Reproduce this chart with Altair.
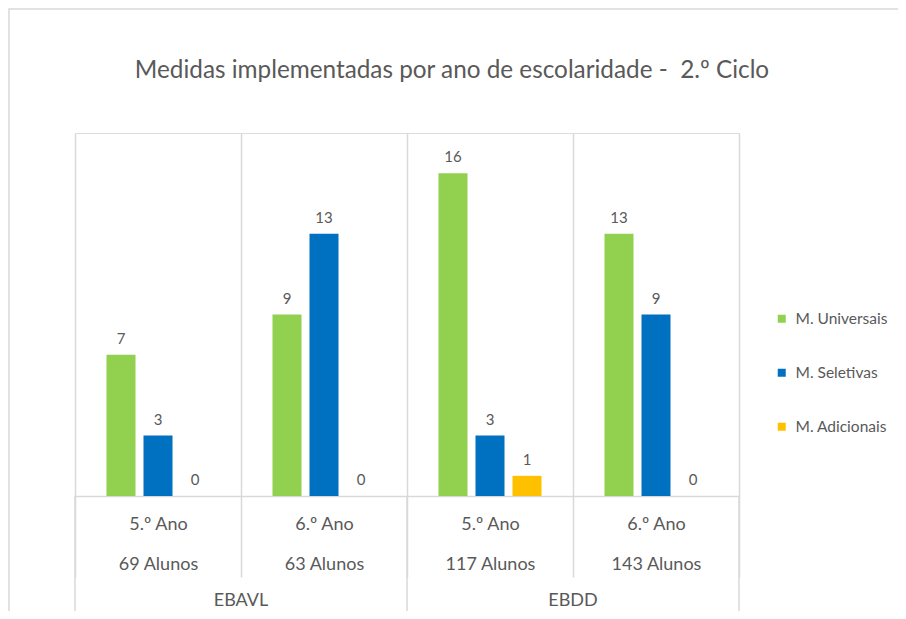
import altair as alt
import pandas as pd

schools = ["EBAVL", "EBAVL", "EBDD", "EBDD"]
anos = ["5.º Ano", "6.º Ano", "5.º Ano", "6.º Ano"]
alunos = ["69 Alunos", "63 Alunos", "117 Alunos", "143 Alunos"]
series = ["M. Universais", "M. Seletivas", "M. Adicionais"]
universais = [7, 9, 16, 13]
seletivas = [3, 13, 3, 9]
adicionais = [0, 0, 1, 0]
colors = ["#92D050", "#0070C0", "#FFC000"]
title_text = "Medidas implementadas por ano de escolaridade -\u00a0 2.º Ciclo"

groups = [f"{a}|{n}" for a, n in zip(anos, alunos)]
rows = []
for i, g in enumerate(groups):
    for s, vals in zip(series, [universais, seletivas, adicionais]):
        rows.append({"grupo": g, "serie": s, "valor": vals[i], "escola": schools[i]})
df = pd.DataFrame(rows)

school_first = pd.DataFrame(
    [{"grupo": groups[i], "escola": schools[i]} for i in range(len(groups))
     if i == 0 or schools[i] != schools[i - 1]]
)
last_group = pd.DataFrame([{"grupo": groups[-1], "titulo": title_text}])

W, H = 664, 363
FONT = "Lato"
TXT = "#595959"
GRID = "#D9D9D9"

xscale = alt.Scale(domain=groups, paddingInner=0, paddingOuter=0)
x = alt.X(
    "grupo:N", scale=xscale, sort=groups,
    axis=alt.Axis(
        title=None, labelAngle=0,
        labelExpr="split(datum.label, '|')",
        labelLineHeight=40, labelFontSize=18, labelFont=FONT, labelColor=TXT,
        labelBaseline="middle", labelPadding=-53,
        tickBand="extent", tickSize=81, tickColor=GRID, tickWidth=1.5,
        domainColor=GRID, domainWidth=1.5,
        grid=True, gridColor=GRID, gridWidth=1.5,
    ),
)
xoff = alt.XOffset("serie:N", sort=series,
                   scale=alt.Scale(domain=series, paddingInner=8 / 37, paddingOuter=0.851))
y = alt.Y("valor:Q", scale=alt.Scale(domain=[0, 18]), axis=None)

base = alt.Chart(df)
bars = base.mark_bar().encode(
    x=x, xOffset=xoff, y=y,
    color=alt.Color("serie:N", sort=series,
                    scale=alt.Scale(domain=series, range=colors),
                    legend=alt.Legend(
                        title=None, orient="none", legendX=699, legendY=178,
                        symbolType="square", symbolSize=64, symbolStrokeWidth=0,
                        labelFont=FONT, labelFontSize=15.5, labelColor=TXT,
                        labelOffset=6, rowPadding=37, padding=0,
                    )),
)
labels = base.mark_text(font=FONT, fontSize=15, color=TXT, baseline="alphabetic", dy=-11).encode(
    x=alt.X("grupo:N", scale=xscale, sort=groups), xOffset=xoff, y=y, text="valor:Q"
)

school_text = alt.Chart(school_first).mark_text(
    font=FONT, fontSize=18, color=TXT, baseline="middle"
).encode(
    x=alt.X("grupo:N", scale=xscale, sort=groups, bandPosition=1),
    y=alt.value(H + 105),
    text="escola:N",
)
school_rule_start = alt.Chart(school_first).mark_rule(color=GRID, strokeWidth=1.5).encode(
    x=alt.X("grupo:N", scale=xscale, sort=groups, bandPosition=0),
    y=alt.value(H), y2=alt.value(H + 140),
)
school_rule_end = alt.Chart(last_group).mark_rule(color=GRID, strokeWidth=1.5).encode(
    x=alt.X("grupo:N", scale=xscale, sort=groups, bandPosition=1),
    y=alt.value(H), y2=alt.value(H + 140),
)
frame = alt.Chart(last_group).mark_rect(filled=False, stroke=GRID, strokeWidth=1.5).encode(
    x=alt.value(-66), x2=alt.value(W + 200),
    y=alt.value(-124), y2=alt.value(H + 200),
)
title = alt.Chart(last_group).mark_text(
    font=FONT, fontSize=24.3, color=TXT, baseline="alphabetic", align="center"
).encode(
    x=alt.value(W / 2 + 45), y=alt.value(-55), text="titulo:N"
)

chart = alt.layer(frame, bars, labels, school_text, school_rule_start, school_rule_end, title).resolve_scale(
    x="shared"
).properties(
    width=W, height=H,
    autosize=alt.AutoSizeParams(type="none"),
    padding={"left": 67, "top": 125, "right": 159, "bottom": 115},
).configure_view(stroke=None).configure(background="white")

chart.save("out.html", embed_options={"renderer": "svg", "actions": False})
